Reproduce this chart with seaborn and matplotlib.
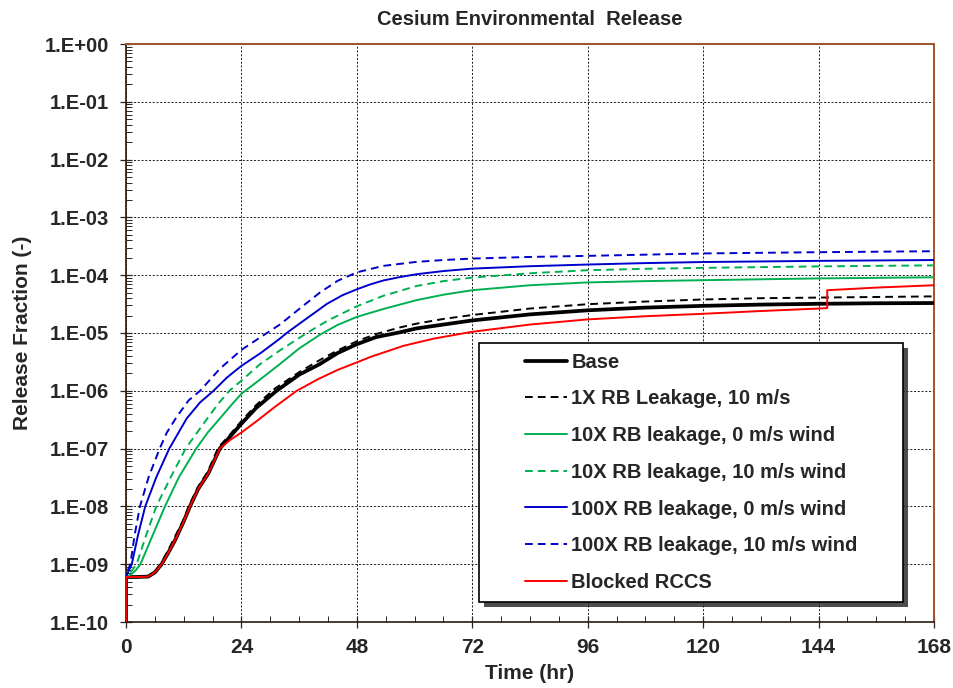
import numpy as np
import matplotlib
matplotlib.use("Agg")
import matplotlib.pyplot as plt
import matplotlib.ticker as mticker
from matplotlib.patches import Rectangle
import seaborn as sns

# Time (hr) and release fraction (-)
base_t = [0, 0, 2, 4.6, 6, 7.4, 9, 10.2, 12, 13.3, 15, 17.1, 19.5, 21.6, 24, 27, 31.3, 36, 40.3, 44,
          48, 52, 57, 60.4, 66, 72, 84, 96, 108, 120, 132, 144, 156, 168]
base_v = [1e-10, 6e-10, 6e-10, 6.1e-10, 7.2e-10, 1e-9, 1.7e-9, 2.6e-9, 5.5e-9, 1e-8, 2e-8, 3.7e-8, 1e-7,
          1.6e-7, 2.7e-7, 5e-7, 1e-6, 1.9e-6, 2.9e-6, 4.5e-6, 6.4e-6, 8.5e-6, 1.03e-5, 1.2e-5, 1.4e-5,
          1.65e-5, 2.1e-5, 2.47e-5, 2.75e-5, 2.95e-5, 3.1e-5, 3.2e-5, 3.27e-5, 3.3e-5]

rb1x_t = [0, 0, 2, 4.6, 6, 7.2, 9, 10, 12, 13, 15, 17, 19.2, 21.5, 24, 27, 31, 36, 40, 44, 48, 52, 57,
          60.4, 66, 72, 84, 96, 108, 120, 132, 144, 156, 168]
rb1x_v = [1e-10, 6e-10, 6e-10, 6.2e-10, 7.5e-10, 1e-9, 1.9e-9, 2.8e-9, 6e-9, 1e-8, 2.2e-8, 4e-8, 1.05e-7,
          1.7e-7, 3e-7, 5.6e-7, 1.1e-6, 2.1e-6, 3.3e-6, 5e-6, 7.2e-6, 9.6e-6, 1.25e-5, 1.45e-5, 1.75e-5,
          2.05e-5, 2.65e-5, 3.15e-5, 3.5e-5, 3.8e-5, 4e-5, 4.1e-5, 4.2e-5, 4.3e-5]

rb10_0_t = [0, 0, 1, 2, 3.0, 5.5, 8.1, 11, 14.6, 17, 19.5, 22, 24, 28, 32, 36, 40.3, 44, 48, 53.5,
            60.4, 66, 72, 84, 96, 108, 120, 144, 168]
rb10_0_v = [1e-10, 6e-10, 6.6e-10, 7.8e-10, 1e-9, 3.1e-9, 1e-8, 3.2e-8, 1e-7, 1.9e-7, 3.3e-7, 5.8e-7,
            8.9e-7, 1.6e-6, 2.9e-6, 5.4e-6, 9.3e-6, 1.38e-5, 1.9e-5, 2.6e-5, 3.7e-5, 4.6e-5, 5.5e-5,
            6.7e-5, 7.5e-5, 7.9e-5, 8.2e-5, 8.8e-5, 9.2e-5]

rb10_10_t = [0, 0, 0.8, 2.2, 4.2, 6.3, 9.3, 12.4, 14.8, 17.1, 19.2, 21.5, 24, 27.9, 32, 37.6, 42, 48,
             53.5, 60.4, 66, 72, 84, 96, 108, 120, 144, 168]
rb10_10_v = [1e-10, 6e-10, 7e-10, 1e-9, 3.2e-9, 1e-8, 3.2e-8, 1e-7, 1.9e-7, 3.5e-7, 6e-7, 1e-6, 1.5e-6,
             2.9e-6, 5e-6, 1e-5, 1.65e-5, 2.9e-5, 4.4e-5, 6.5e-5, 7.9e-5, 9.1e-5, 1.08e-4, 1.22e-4,
             1.29e-4, 1.34e-4, 1.42e-4, 1.48e-4]

rb100_0_t = [0, 0, 0.5, 1.2, 2.5, 4.0, 6.3, 9.0, 12.6, 15.4, 18.2, 21, 24, 28, 32, 33.4, 37, 41.8, 45,
             48, 50.7, 53.5, 57, 60.4, 66, 72, 84, 96, 108, 120, 144, 168]
rb100_0_v = [1e-10, 6e-10, 7.5e-10, 1e-9, 3.2e-9, 1e-8, 3.2e-8, 1e-7, 3.3e-7, 6.3e-7, 1e-6, 1.7e-6,
             2.7e-6, 4.5e-6, 8e-6, 1e-5, 1.65e-5, 3.2e-5, 4.5e-5, 5.7e-5, 6.9e-5, 8.1e-5, 9.3e-5, 1.04e-4,
             1.18e-4, 1.3e-4, 1.43e-4, 1.53e-4, 1.62e-4, 1.69e-4, 1.77e-4, 1.83e-4]

rb100_10_t = [0, 0, 0.3, 0.9, 1.8, 2.9, 4.7, 7.0, 8.5, 10.5, 13, 15.4, 19.5, 24, 28, 32, 36, 40.3, 44,
              48, 53.5, 60.4, 66, 72, 84, 96, 120, 144, 168]
rb100_10_v = [1e-10, 6e-10, 7.5e-10, 1e-9, 3.2e-9, 1e-8, 3.2e-8, 1e-7, 1.9e-7, 3.5e-7, 6.8e-7, 1e-6,
              2.4e-6, 5.1e-6, 8.5e-6, 1.4e-5, 2.6e-5, 5e-5, 8e-5, 1.12e-4, 1.45e-4, 1.7e-4, 1.83e-4,
              1.94e-4, 2.07e-4, 2.16e-4, 2.38e-4, 2.5e-4, 2.6e-4]

rccs_t = [0, 0, 2, 4.6, 6, 7.4, 9, 10.2, 12, 13.3, 15, 17.1, 19.5, 21.6, 24, 27.2, 31, 35.5, 40, 44, 48,
          51, 57.7, 64, 72, 84, 96, 108, 120, 132, 144, 145.8, 145.8, 156, 168]
rccs_v = [1e-10, 6e-10, 6e-10, 6.1e-10, 7.2e-10, 1e-9, 1.7e-9, 2.6e-9, 5.5e-9, 1e-8, 2e-8, 3.7e-8, 1e-7,
          1.4e-7, 1.9e-7, 3e-7, 5.3e-7, 1e-6, 1.6e-6, 2.3e-6, 3.1e-6, 3.9e-6, 6e-6, 8e-6, 1.05e-5, 1.4e-5,
          1.72e-5, 1.95e-5, 2.15e-5, 2.4e-5, 2.65e-5, 2.7e-5, 5.5e-5, 6.1e-5, 6.7e-5]

labels = ["Base", "1X RB Leakage, 10 m/s", "10X RB leakage, 0 m/s wind", "10X RB leakage, 10 m/s wind",
          "100X RB leakage, 0 m/s wind", "100X RB leakage, 10 m/s wind", "Blocked RCCS"]
series = [(base_t, base_v), (rb1x_t, rb1x_v), (rb10_0_t, rb10_0_v), (rb10_10_t, rb10_10_v),
          (rb100_0_t, rb100_0_v), (rb100_10_t, rb100_10_v), (rccs_t, rccs_v)]

dash = (0, (4, 2.6))
styles = [("black", 2.7, "-"), ("black", 1.4, dash), ("#00B050", 1.4, "-"), ("#00B050", 1.4, dash),
          ("#0000CD", 1.4, "-"), ("#0000CD", 1.4, dash), ("#FF0000", 1.4, "-")]

sns.set_style("ticks")
plt.rcParams['font.family'] = ['Liberation Sans', 'DejaVu Sans']

fig = plt.figure(figsize=(9.54, 6.88), dpi=100)
ax = fig.add_axes([126 / 954, 1 - 622 / 688, 808 / 954, 578 / 688])

for (t, v), name, (col, lw, ls) in zip(series, labels, styles):
    sns.lineplot(x=t, y=v, ax=ax, color=col, lw=lw, linestyle=ls, estimator=None, sort=False,
                 label=name, zorder=3)

ax.set_yscale("log")
ax.set_ylim(1e-10, 1)
ax.set_xlim(0, 168)
ax.set_xticks(range(0, 169, 24))
ax.xaxis.set_minor_locator(mticker.MultipleLocator(6))
ax.yaxis.set_major_locator(mticker.LogLocator(base=10, numticks=20))
ax.yaxis.set_minor_locator(mticker.LogLocator(base=10, subs=np.arange(2, 10), numticks=200))
ax.yaxis.set_minor_formatter(mticker.NullFormatter())
ax.yaxis.set_major_formatter(mticker.FuncFormatter(lambda v, p: "1.E%+03d" % round(np.log10(v))))

ax.grid(True, which="major", color="black", linestyle=(0, (2.5, 2)), lw=0.6)
ax.set_axisbelow(True)

ax.tick_params(axis="both", which="major", direction="inout", length=9, width=0.9, pad=5)
ax.tick_params(axis="y", which="major", pad=8)
ax.tick_params(axis="x", which="major", pad=7)
ax.tick_params(axis="both", which="minor", direction="in", length=4, width=0.7)
for lab in ax.get_yticklabels():
    lab.set_fontsize(14.5)
    lab.set_fontweight("bold")
for lab in ax.get_xticklabels():
    lab.set_fontsize(15)
    lab.set_fontweight("bold")

for s in ["top", "right"]:
    ax.spines[s].set_color("#A0522D")
    ax.spines[s].set_linewidth(1.4)
for s in ["left", "bottom"]:
    ax.spines[s].set_color("#2a1a0a")
    ax.spines[s].set_linewidth(1.2)

ax.set_title("Cesium Environmental  Release", fontsize=14.5, fontweight="bold", pad=14)
ax.set_xlabel("Time (hr)", fontsize=15, fontweight="bold", labelpad=5)
ax.set_ylabel("Release Fraction (-)", fontsize=15, fontweight="bold", labelpad=9)

# legend box with drop shadow
bx, by, bw, bh = 0.437, 0.035, 0.525, 0.448
ax.add_patch(Rectangle((bx + 5 / 808, by - 5 / 578), bw, bh, transform=ax.transAxes,
                       facecolor="#222222", edgecolor="none", alpha=0.8, zorder=5))
ax.add_patch(Rectangle((bx, by), bw, bh, transform=ax.transAxes, facecolor="white",
                       edgecolor="black", lw=1.2, zorder=6))
handles, _ = ax.get_legend_handles_labels()
leg = ax.legend(handles, labels, loc="center", bbox_to_anchor=(bx + bw / 2, by + bh / 2),
                frameon=False, prop={"weight": "bold", "size": 14.5}, labelspacing=0.88,
                handlelength=2.1, handletextpad=0.2)
leg.set_zorder(7)

fig.savefig("out.png", dpi=100)
